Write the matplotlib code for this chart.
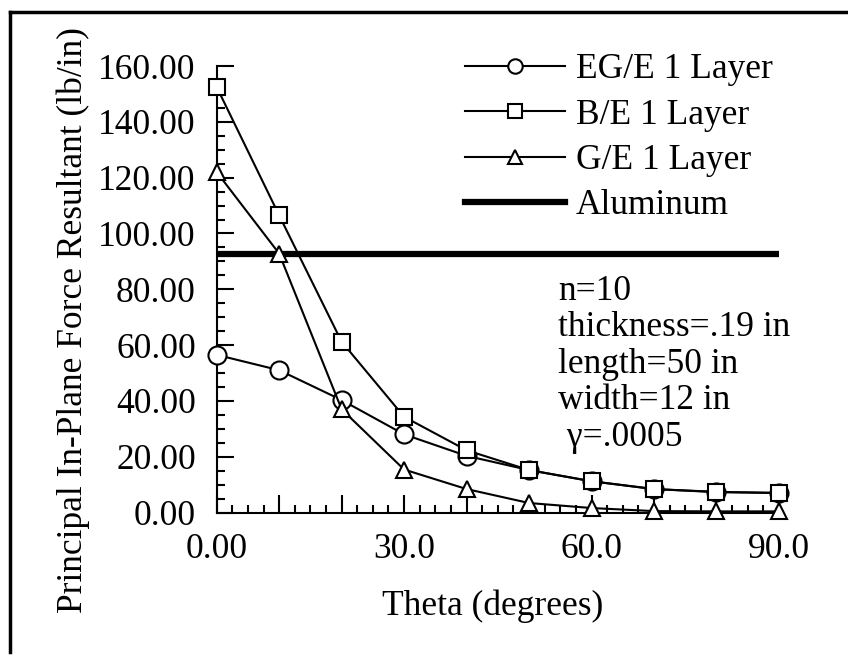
import numpy as np
import matplotlib
matplotlib.use('Agg')
import matplotlib.pyplot as plt
from matplotlib.ticker import MultipleLocator, FuncFormatter

# data: principal in-plane force resultant vs ply angle
theta = [0, 10, 20, 30, 40, 50, 60, 70, 80, 90]
eg_e = [56.5, 51.0, 40.3, 28.0, 20.3, 15.2, 11.2, 8.4, 7.4, 7.0]
b_e = [152.5, 106.5, 61.2, 34.3, 22.3, 15.2, 11.2, 8.4, 7.3, 7.0]
g_e = [122.0, 92.8, 37.0, 15.4, 8.4, 3.4, 1.6, 0.5, 0.4, 0.4]
aluminum = 92.5

series_labels = ['EG/E 1 Layer', 'B/E 1 Layer', 'G/E 1 Layer', 'Aluminum']
notes = ['n=10', 'thickness=.19 in', 'length=50 in', 'width=12 in', ' \u03b3=.0005']

plt.rcParams['font.family'] = ['Liberation Serif', 'DejaVu Serif']
plt.rcParams['font.size'] = 25.5

fig = plt.figure(figsize=(8.48, 6.59), dpi=100)
ax = fig.add_axes([0.2555, 0.2223, 0.6631, 0.6775])

# page frame (left and top edges)
fig.add_artist(plt.Line2D([0.012, 0.012], [0.01, 0.982], color='k', lw=2.5))
fig.add_artist(plt.Line2D([0.012, 1.0], [0.982, 0.982], color='k', lw=2.5))

mk = dict(color='k', lw=1.5, mfc='white', mec='k', mew=1.5, clip_on=False)
l1, = ax.plot(theta, eg_e, marker='o', ms=13, zorder=3, **mk)
l2, = ax.plot(theta, b_e, marker='s', ms=12, zorder=4, **mk)
l3, = ax.plot(theta, g_e, marker='^', ms=12, zorder=3, **mk)
l4 = ax.axhline(aluminum, color='k', lw=4.5, zorder=2)

ax.set_xlim(0, 90)
ax.set_ylim(0, 160)
ax.spines['top'].set_visible(False)
ax.spines['right'].set_visible(False)
ax.spines['left'].set_linewidth(1.5)
ax.spines['bottom'].set_linewidth(1.5)

ax.xaxis.set_major_locator(MultipleLocator(10))
ax.xaxis.set_minor_locator(MultipleLocator(2.5))
ax.xaxis.set_major_formatter(FuncFormatter(
    lambda v, p: ('0.00' if v == 0 else f'{v:.1f}') if v % 30 == 0 else ''))
ax.yaxis.set_major_locator(MultipleLocator(20))
ax.yaxis.set_minor_locator(MultipleLocator(5))
ax.yaxis.set_major_formatter(FuncFormatter(lambda v, p: f'{v:.2f}'))

ax.tick_params(axis='x', which='major', direction='in', length=13, width=1.5, pad=15)
ax.tick_params(axis='x', which='minor', direction='in', length=6, width=1.5)
ax.tick_params(axis='y', which='major', direction='in', length=12, width=1.5, pad=15)
ax.tick_params(axis='y', which='minor', direction='in', length=5.5, width=1.5)

ax.set_xlabel('Theta (degrees)')
ax.xaxis.set_label_coords(0.49, -0.172)
ax.set_ylabel('Principal In-Plane Force Resultant (lb/in)')
ax.yaxis.set_label_coords(-0.2253, 0.431)

ax.legend([l1, l2, l3, l4], series_labels, loc='upper left',
          bbox_to_anchor=(0.4164, 1.0605), frameon=False, handlelength=2.82,
          handletextpad=0.31, labelspacing=0.35, borderaxespad=0, markerscale=0.8)

ax.text(0.607, 0.533, '\n'.join(notes), transform=ax.transAxes,
        ha='left', va='top', linespacing=1.14)

fig.savefig('out.png', dpi=100)
